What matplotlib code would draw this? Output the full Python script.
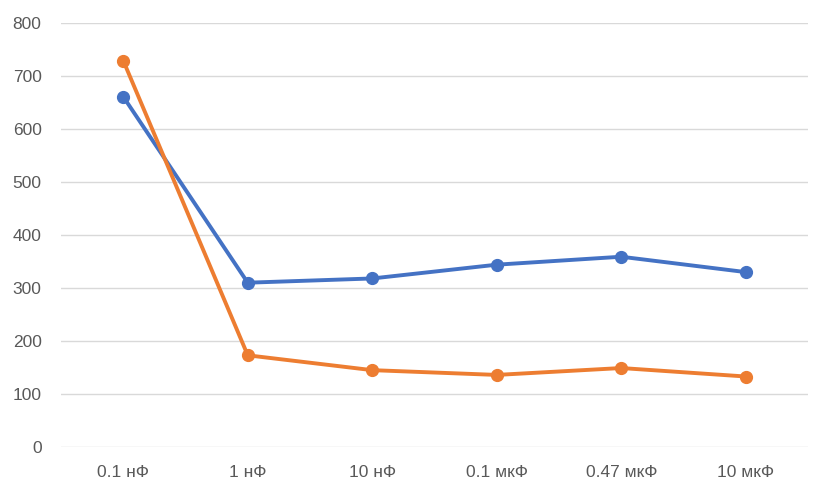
import matplotlib.pyplot as plt

# Values
categories = ['0.1 нФ', '1 нФ', '10 нФ', '0.1 мкФ', '0.47 мкФ', '10 мкФ']
series_blue = [661, 310, 318, 344, 359, 330]
series_orange = [729, 173, 145, 136, 149, 133]
y_ticks = [0, 100, 200, 300, 400, 500, 600, 700, 800]

plt.rcParams['font.family'] = ['Liberation Sans', 'DejaVu Sans']

fig = plt.figure(figsize=(8.22, 4.93), dpi=100)
ax = fig.add_axes([61 / 822, 1 - 447 / 493, (808 - 61) / 822, (447 - 23) / 493])

x = list(range(len(categories)))
ax.plot(x, series_blue, color='#4472C4', linewidth=2.8, marker='o', markersize=8.5, zorder=3)
ax.plot(x, series_orange, color='#ED7D31', linewidth=2.8, marker='o', markersize=8.5, zorder=3)

ax.set_xlim(-0.5, len(categories) - 0.5)
ax.set_ylim(0, 800)
ax.set_yticks(y_ticks)
ax.set_xticks(x)
ax.set_xticklabels(categories)

ax.grid(axis='y', color='#D9D9D9', linewidth=1.0)
ax.set_axisbelow(True)
for side in ['top', 'right', 'left', 'bottom']:
    ax.spines[side].set_visible(False)
ax.tick_params(axis='both', length=0, labelsize=12.5, colors='#595959')
ax.tick_params(axis='y', pad=14)
ax.tick_params(axis='x', pad=13)

fig.savefig('out.png', dpi=100)
